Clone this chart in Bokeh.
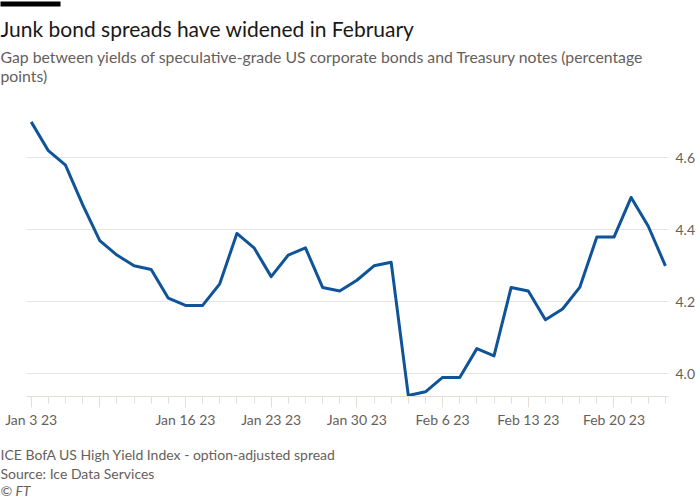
from bokeh.plotting import figure
from bokeh.models import Range1d, FixedTicker, Title
from bokeh.embed import file_html
from bokeh.resources import INLINE

# ---- data ----
dates = ["2023-01-03", "2023-01-04", "2023-01-05", "2023-01-06",
         "2023-01-09", "2023-01-10", "2023-01-11", "2023-01-12", "2023-01-13",
         "2023-01-16", "2023-01-17", "2023-01-18", "2023-01-19", "2023-01-20",
         "2023-01-23", "2023-01-24", "2023-01-25", "2023-01-26", "2023-01-27",
         "2023-01-30", "2023-01-31", "2023-02-01", "2023-02-02", "2023-02-03",
         "2023-02-06", "2023-02-07", "2023-02-08", "2023-02-09", "2023-02-10",
         "2023-02-13", "2023-02-14", "2023-02-15", "2023-02-16", "2023-02-17",
         "2023-02-20", "2023-02-21", "2023-02-22", "2023-02-23"]
spread = [4.70, 4.62, 4.58, 4.47,
          4.37, 4.33, 4.30, 4.29, 4.21,
          4.19, 4.19, 4.25, 4.39, 4.35,
          4.27, 4.33, 4.35, 4.24, 4.23,
          4.26, 4.30, 4.31, 3.94, 3.95,
          3.99, 3.99, 4.07, 4.05, 4.24,
          4.23, 4.15, 4.18, 4.24, 4.38,
          4.38, 4.49, 4.41, 4.30]
major_tick_dates = ["2023-01-03", "2023-01-09", "2023-01-16", "2023-01-23",
                    "2023-01-30", "2023-02-06", "2023-02-13", "2023-02-20"]
tick_label_dates = {"2023-01-03": "Jan 3 23", "2023-01-16": "Jan 16 23",
                    "2023-01-23": "Jan 23 23", "2023-01-30": "Jan 30 23",
                    "2023-02-06": "Feb 6 23", "2023-02-13": "Feb 13 23",
                    "2023-02-20": "Feb 20 23"}
y_ticks = [4.0, 4.2, 4.4, 4.6]

title = "Junk bond spreads have widened in February"
subtitle = ("Gap between yields of speculative-grade US corporate bonds and Treasury notes (percentage\n"
            "points)")
footer_lines = "ICE BofA US High Yield Index - option-adjusted spread\nSource: Ice Data Services"
copyright_line = "\u00a9 FT"

FONT = "Lato"
GREY = "#66605C"
W, H = 700, 500
LEFT, RIGHT, TOP, BOTTOM = 26, 32, 112, 104

x = list(range(len(dates)))

p = figure(width=W, height=H, output_backend="svg", toolbar_location=None,
           x_range=Range1d(-0.274, 37.18), y_range=Range1d(3.937, 4.726),
           y_axis_location="right", min_border_left=LEFT, min_border_right=RIGHT,
           min_border_top=TOP, min_border_bottom=BOTTOM)
p.outline_line_color = None
p.background_fill_color = "white"
p.border_fill_color = "white"

p.line(x, spread, line_color="#0F5499", line_width=3, line_join="round")

# x axis
xa = p.xaxis[0]
xa.ticker = FixedTicker(ticks=[dates.index(d) for d in major_tick_dates],
                        minor_ticks=x)
overrides = {dates.index(d): "" for d in major_tick_dates}
overrides.update({dates.index(d): lab for d, lab in tick_label_dates.items()})
xa.major_label_overrides = overrides
xa.axis_line_color = "#E3DDD8"
xa.major_tick_line_color = "#E3DDD8"
xa.minor_tick_line_color = "#E3DDD8"
xa.major_tick_out = 11
xa.major_tick_in = 0
xa.minor_tick_out = 7
xa.minor_tick_in = 0
xa.major_label_standoff = 3
xa.major_label_text_font = FONT
xa.major_label_text_font_size = "14px"
xa.major_label_text_color = GREY
p.xgrid.grid_line_color = None

# y axis
ya = p.yaxis[0]
ya.ticker = FixedTicker(ticks=y_ticks)
ya.major_label_overrides = {t: f"{t:.1f}" for t in y_ticks}
ya.axis_line_color = None
ya.major_tick_line_color = None
ya.minor_tick_line_color = None
ya.major_tick_out = 0
ya.major_tick_in = 0
ya.major_label_standoff = 7
ya.major_label_text_font = FONT
ya.major_label_text_font_size = "14px"
ya.major_label_text_color = GREY
p.ygrid.grid_line_color = "#EAE5E1"
p.ygrid.grid_line_width = 1

# ---- texts (stacked panels) ----
def T(text, size, color, valign="top", standoff=0, style="normal", lh=1.2, **kw):
    return Title(text=text, text_font=FONT, text_font_size=size, text_color=color,
                 align="left", vertical_align=valign, standoff=standoff,
                 offset=-LEFT, text_font_style=style, text_line_height=lh, **kw)

# above: first added is nearest to the frame
p.add_layout(T(" ", "1px", "white", standoff=26), "above")
p.add_layout(T(subtitle, "15.8px", GREY, standoff=-8, lh=1.05), "above")
p.add_layout(T(title, "21px", "#1A1817", standoff=15), "above")
p.add_layout(T(" ", "4px", "black", background_fill_color="black",
               padding=(0, 59, 0, 0)), "above")

# below
p.add_layout(T(" ", "1px", "white", standoff=12), "below")
p.add_layout(T(footer_lines, "14px", GREY, lh=1.14), "below")
p.add_layout(T(copyright_line, "14px", GREY, style="italic", standoff=-4), "below")

open("out.html", "w").write(file_html(p, INLINE))
